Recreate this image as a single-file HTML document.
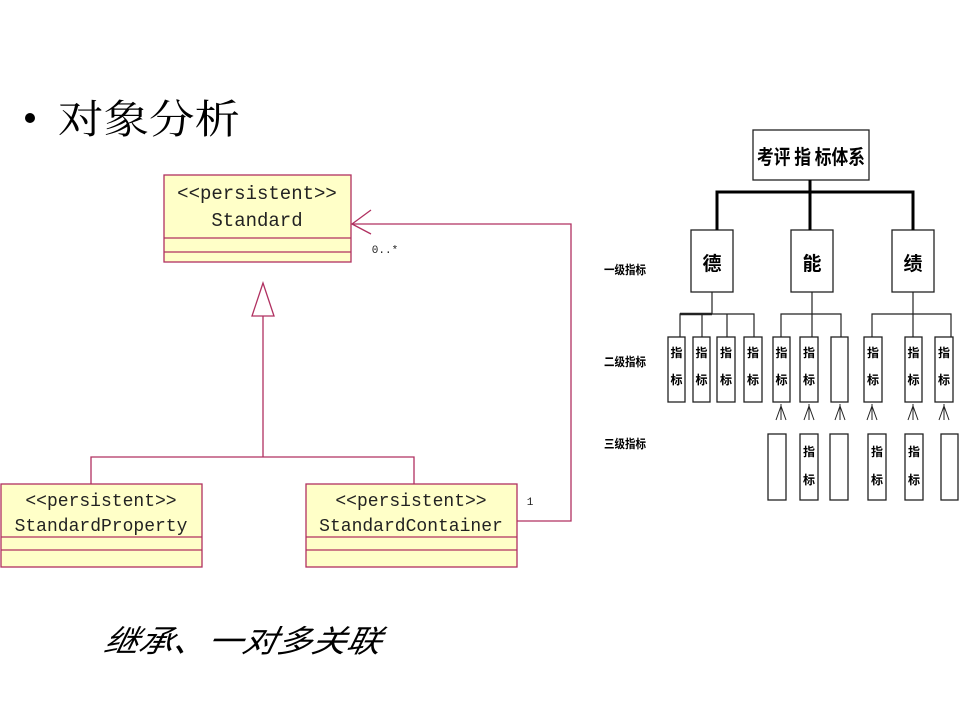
<!DOCTYPE html>
<html><head><meta charset="utf-8"><style>
html,body{margin:0;padding:0;background:#fff;}
svg{display:block;}
</style></head><body>
<svg width="960" height="720" xmlns="http://www.w3.org/2000/svg">
<rect width="960" height="720" fill="#fff"/>
<!-- title -->
<circle cx="30" cy="118" r="5" fill="#000"/>
<text x="58" y="133" font-family="Liberation Serif,'Noto Serif CJK SC',serif" font-size="40" textLength="182" lengthAdjust="spacingAndGlyphs">对象分析</text>
<!-- UML -->
<g stroke="#b03060" stroke-width="1.3" fill="#ffffc8">
<rect x="164" y="175" width="187" height="87"/>
<line x1="164" y1="238" x2="351" y2="238"/><line x1="164" y1="252" x2="351" y2="252"/>
<rect x="1" y="484" width="201" height="83"/>
<line x1="1" y1="537" x2="202" y2="537"/><line x1="1" y1="550" x2="202" y2="550"/>
<rect x="306" y="484" width="211" height="83"/>
<line x1="306" y1="537" x2="517" y2="537"/><line x1="306" y1="550" x2="517" y2="550"/>
</g>
<g stroke="#b03060" stroke-width="1.3" fill="none">
<polygon points="263,283 252,316 274,316" fill="#fff"/>
<polyline points="263,316 263,457"/>
<polyline points="91,484 91,457 414,457 414,484"/>
<polyline points="517,567 571,567 571,224 352,224" transform="translate(0,-46) scale(1,1)" stroke="none"/>
<polyline points="517,521 571,521 571,224 352,224"/>
<polyline points="371,210 352,224 371,234"/>
</g>
<g font-family="Liberation Mono,'Noto Sans CJK SC',monospace" fill="#222" text-anchor="middle">
<text x="257" y="199" font-size="19">&lt;&lt;persistent&gt;&gt;</text>
<text x="257" y="226" font-size="19">Standard</text>
<text x="101" y="506" font-size="18">&lt;&lt;persistent&gt;&gt;</text>
<text x="101" y="531" font-size="18">StandardProperty</text>
<text x="411" y="506" font-size="18">&lt;&lt;persistent&gt;&gt;</text>
<text x="411" y="531" font-size="18">StandardContainer</text>
<text x="385" y="253" font-size="11">0..*</text>
<text x="530" y="505" font-size="11">1</text>
</g>
<!-- caption -->
<text x="103" y="652" font-family="Liberation Sans,'Noto Sans CJK SC',sans-serif" font-size="31" font-style="italic" textLength="277" lengthAdjust="spacingAndGlyphs" transform="skewX(-12) translate(138,0)">继承、一对多关联</text>
<!-- right chart -->
<g font-family="'Noto Sans CJK SC','WenQuanYi Zen Hei',sans-serif" font-weight="bold" fill="#000">
<g stroke="#222" fill="#fff" stroke-width="1.3">
<rect x="753" y="130" width="116" height="50"/>
<rect x="691" y="230" width="42" height="62"/>
<rect x="791" y="230" width="42" height="62"/>
<rect x="892" y="230" width="42" height="62"/>
<rect x="668" y="337" width="17" height="65"/><rect x="693" y="337" width="17" height="65"/>
<rect x="717" y="337" width="18" height="65"/><rect x="744" y="337" width="18" height="65"/>
<rect x="773" y="337" width="17" height="65"/><rect x="800" y="337" width="18" height="65"/>
<rect x="831" y="337" width="17" height="65"/>
<rect x="864" y="337" width="18" height="65"/><rect x="905" y="337" width="17" height="65"/>
<rect x="935" y="337" width="18" height="65"/>
<rect x="768" y="434" width="18" height="66"/><rect x="800" y="434" width="18" height="66"/>
<rect x="830" y="434" width="18" height="66"/><rect x="868" y="434" width="18" height="66"/>
<rect x="905" y="434" width="18" height="66"/><rect x="941" y="434" width="17" height="66"/>
</g>
<g stroke="#000" fill="none" stroke-width="3">
<line x1="810" y1="180" x2="810" y2="230"/>
<polyline points="717,230 717,192 913,192 913,230"/>
</g>
<g stroke="#222" fill="none" stroke-width="1.2">
<polyline points="712,292 712,314"/><polyline points="680,337 680,314 754,314 754,337"/>
<line x1="702" y1="314" x2="702" y2="337"/><line x1="727" y1="314" x2="727" y2="337"/>
<line x1="680" y1="314" x2="712" y2="314" stroke-width="2.5"/>
<polyline points="812,292 812,337"/><polyline points="781,337 781,314 841,314 841,337"/>
<polyline points="913,292 913,337"/><polyline points="872,337 872,314 951,314 951,337"/>
<g stroke-width="1">
<path d="M781 404v16M781 406l-5 14M781 406l5 14"/>
<path d="M809 404v16M809 406l-5 14M809 406l5 14"/>
<path d="M840 404v16M840 406l-5 14M840 406l5 14"/>
<path d="M872 404v16M872 406l-5 14M872 406l5 14"/>
<path d="M913 404v16M913 406l-5 14M913 406l5 14"/>
<path d="M944 404v16M944 406l-5 14M944 406l5 14"/>
</g>
</g>
<text x="811" y="164" font-size="20" text-anchor="middle" textLength="108" lengthAdjust="spacingAndGlyphs">考评 指 标体系</text>
<text x="712" y="270" font-size="19" text-anchor="middle">德</text>
<text x="812" y="270" font-size="19" text-anchor="middle">能</text>
<text x="913" y="270" font-size="19" text-anchor="middle">绩</text>
<g font-size="12" text-anchor="start">
<text x="604" y="274" textLength="42" lengthAdjust="spacingAndGlyphs">一级指标</text>
<text x="604" y="366" textLength="42" lengthAdjust="spacingAndGlyphs">二级指标</text>
<text x="604" y="448" textLength="42" lengthAdjust="spacingAndGlyphs">三级指标</text>
</g>
<g font-size="12" text-anchor="middle">
<text x="676.5" y="357">指</text><text x="676.5" y="384">标</text>
<text x="701.5" y="357">指</text><text x="701.5" y="384">标</text>
<text x="726" y="357">指</text><text x="726" y="384">标</text>
<text x="753" y="357">指</text><text x="753" y="384">标</text>
<text x="781.5" y="357">指</text><text x="781.5" y="384">标</text>
<text x="809" y="357">指</text><text x="809" y="384">标</text>
<text x="873" y="357">指</text><text x="873" y="384">标</text>
<text x="913.5" y="357">指</text><text x="913.5" y="384">标</text>
<text x="944" y="357">指</text><text x="944" y="384">标</text>
<text x="809" y="456">指</text><text x="809" y="484">标</text>
<text x="877" y="456">指</text><text x="877" y="484">标</text>
<text x="914" y="456">指</text><text x="914" y="484">标</text>
</g>
</g>
</svg>
</body></html>
